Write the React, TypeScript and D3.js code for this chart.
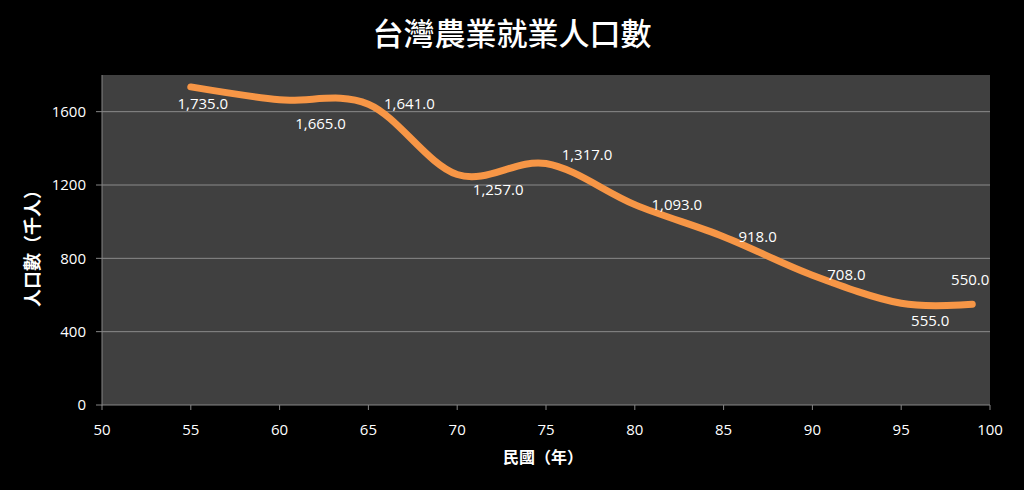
import React from "react";
import * as d3 from "d3";

const years = [55, 60, 65, 70, 75, 80, 85, 90, 95, 99];
const workers = [1735, 1665, 1641, 1257, 1317, 1093, 918, 708, 555, 550];
const labelOffsets: [number, number][] = [
  [12, 17], [41, 24], [41, 0], [41, 15], [41, -9], [42, 0], [34, 0], [34, 0], [29, 17], [-2, -24],
];
const xTicks = [50, 55, 60, 65, 70, 75, 80, 85, 90, 95, 100];
const yTicks = [0, 400, 800, 1200, 1600];
const title = "台灣農業就業人口數";
const xTitle = "民國（年）";
const yTitle = "人口數（千人）";

const W = 1024, H = 490;
const L = 102, R = 990, T = 75, B = 405;
const numFont = "'Open Sans', 'Noto Sans', sans-serif";
const cjkFont = "'Noto Sans CJK TC', 'Noto Sans', sans-serif";

export default function App() {
  const x = d3.scaleLinear().domain([50, 100]).range([L, R]);
  const y = d3.scaleLinear().domain([0, 1800]).range([B, T]);
  const pts = years.map((d, i) => [d, workers[i]] as [number, number]);
  const line = d3
    .line<[number, number]>()
    .x((d) => x(d[0]))
    .y((d) => y(d[1]))
    .curve(d3.curveCardinal.tension(0));
  const fmt = d3.format(",.1f");
  return (
    <svg width={W} height={H} style={{ position: "absolute", left: 0, top: 0, background: "#000" }}>
      <rect x={0} y={0} width={W} height={H} fill="#000" />
      <rect x={L} y={T} width={R - L} height={B - T} fill="#404040" />
      {yTicks.filter((t) => t > 0).map((t) => (
        <line key={t} x1={L} x2={R} y1={y(t)} y2={y(t)} stroke="#8a8a8a" strokeWidth={1} />
      ))}
      <line x1={L} x2={L} y1={T} y2={B + 0.5} stroke="#868686" strokeWidth={1} />
      <line x1={L} x2={R} y1={B} y2={B} stroke="#868686" strokeWidth={1} />
      {yTicks.map((t) => (
        <g key={t}>
          <line x1={L - 6} x2={L} y1={y(t)} y2={y(t)} stroke="#868686" />
          <text x={86} y={y(t)} dy="0.35em" textAnchor="end" fill="#fff" fontSize={15} fontFamily={numFont}>
            {t}
          </text>
        </g>
      ))}
      {xTicks.map((t) => (
        <g key={t}>
          <line x1={x(t)} x2={x(t)} y1={B} y2={B + 5} stroke="#868686" />
          <text x={x(t)} y={430} dy="0.35em" textAnchor="middle" fill="#fff" fontSize={15} fontFamily={numFont}>
            {t}
          </text>
        </g>
      ))}
      <path
        d={line(pts) || ""}
        fill="none"
        stroke="#F79646"
        strokeWidth={7}
        strokeLinecap="round"
        strokeLinejoin="round"
      />
      {pts.map((p, i) => (
        <text
          key={i}
          x={x(p[0]) + labelOffsets[i][0]}
          y={y(p[1]) + labelOffsets[i][1]}
          dy="0.35em"
          textAnchor="middle"
          fill="#fff"
          fontSize={15}
          fontFamily={numFont}
        >
          {fmt(p[1])}
        </text>
      ))}
      <text x={512} y={34} dy="0.35em" textAnchor="middle" fill="#fff" fontSize={31} fontWeight="500" fontFamily={cjkFont}>
        {title}
      </text>
      <text x={543} y={457} dy="0.35em" textAnchor="middle" fill="#fff" fontSize={16} fontWeight="bold" fontFamily={cjkFont}>
        {xTitle}
      </text>
      <text
        transform={`translate(33,244) rotate(-90)`}
        dy="0.35em"
        textAnchor="middle"
        fill="#fff"
        fontSize={18}
        fontWeight="bold"
        fontFamily={cjkFont}
      >
        {yTitle}
      </text>
    </svg>
  );
}
